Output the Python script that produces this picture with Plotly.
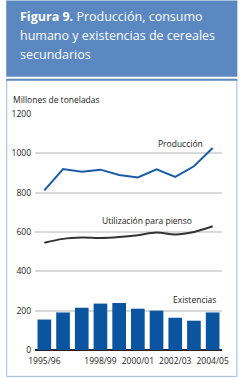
import plotly.graph_objects as go

years = ["1995/96", "1996/97", "1997/98", "1998/99", "1999/00",
         "2000/01", "2001/02", "2002/03", "2003/04", "2004/05"]
produccion = [812, 920, 907, 917, 890, 877, 919, 880, 934, 1027]
pienso = [545, 565, 572, 570, 575, 584, 597, 587, 600, 629]
existencias = [155, 191, 215, 236, 239, 210, 200, 164, 149, 191]
tick_years = ["1995/96", "1998/99", "2000/01", "2002/03", "2004/05"]
y_ticks = [0, 200, 400, 600, 800, 1000, 1200]

FONT = "Open Sans"
W, H = 241, 378
L, R, T, B = 30, 16, 114, 27


def px(x):
    return (x - L) / (W - L - R)


def py(y):
    return (H - B - y) / (H - T - B)


fig = go.Figure()
fig.add_trace(go.Bar(x=years, y=existencias, marker=dict(color="#0b55a0", line=dict(width=0)),
                     width=0.73, showlegend=False))
fig.add_trace(go.Scatter(x=years, y=produccion, mode="lines",
                         line=dict(color="#1a5ba6", width=2), showlegend=False))
fig.add_trace(go.Scatter(x=years, y=pienso, mode="lines", line_shape="spline",
                         line=dict(color="#333333", width=2), showlegend=False))

fig.update_layout(
    width=W, height=H,
    margin=dict(l=L, r=R, t=T, b=B),
    paper_bgcolor="white", plot_bgcolor="white",
    font=dict(family=FONT, size=8.5, color="#222222"),
    xaxis=dict(type="category", range=[-0.5, 9.5], tickmode="array", tickvals=tick_years,
               ticktext=tick_years, showgrid=False, showline=False, ticks="",
               tickfont=dict(size=8.5, family=FONT), ticklabelstandoff=4, fixedrange=True),
    yaxis=dict(range=[0, 1200], tickvals=y_ticks, showgrid=True, gridcolor="#d9d9d9",
               gridwidth=1.5, zeroline=True, zerolinecolor="#222222", zerolinewidth=1.5,
               showline=False, ticks="", tickfont=dict(size=8.5, family=FONT), ticklabelstandoff=3),
    bargap=0.27,
)

shapes = [
    dict(type="rect", xref="paper", yref="paper", x0=px(0), x1=px(241), y0=py(0), y1=py(76.5),
         fillcolor="#5b88c1", line=dict(width=0), layer="below"),
    dict(type="rect", xref="paper", yref="paper", x0=px(0.5), x1=px(240.5), y0=py(79.5), y1=py(377.5),
         fillcolor="rgba(0,0,0,0)", line=dict(color="#9dbbe0", width=1), layer="below"),
    dict(type="line", xref="paper", yref="paper", x0=px(0), x1=px(241), y0=py(79.5), y1=py(79.5),
         line=dict(color="#5b88c1", width=2), layer="below"),
]
fig.update_layout(shapes=shapes)

title_lines = ["<b>Figura 9.</b> Producción, consumo",
               "humano y existencias de cereales",
               "secundarios"]
title_y = [16, 35, 54]
annots = []
for t, yy in zip(title_lines, title_y):
    annots.append(dict(xref="paper", yref="paper", x=px(12), y=py(yy), xanchor="left",
                       yanchor="middle", align="left", showarrow=False, text=t,
                       font=dict(family=FONT, size=12.5, color="white")))
annots += [
    dict(xref="paper", yref="paper", x=px(5), y=py(99), xanchor="left", yanchor="middle",
         showarrow=False, text="Millones de toneladas", font=dict(size=8.5, family=FONT)),
    dict(xref="x", yref="y", x=7.3, y=1051, showarrow=False, text="Producción",
         font=dict(size=8.5, family=FONT)),
    dict(xref="x", yref="y", x=5.47, y=656, showarrow=False, text="Utilización para pienso",
         font=dict(size=8.5, family=FONT)),
    dict(xref="x", yref="y", x=8.03, y=255, showarrow=False, text="Existencias",
         font=dict(size=8.5, family=FONT)),
]
fig.update_layout(annotations=annots)

fig.write_html("out.html", config={"displayModeBar": False})
